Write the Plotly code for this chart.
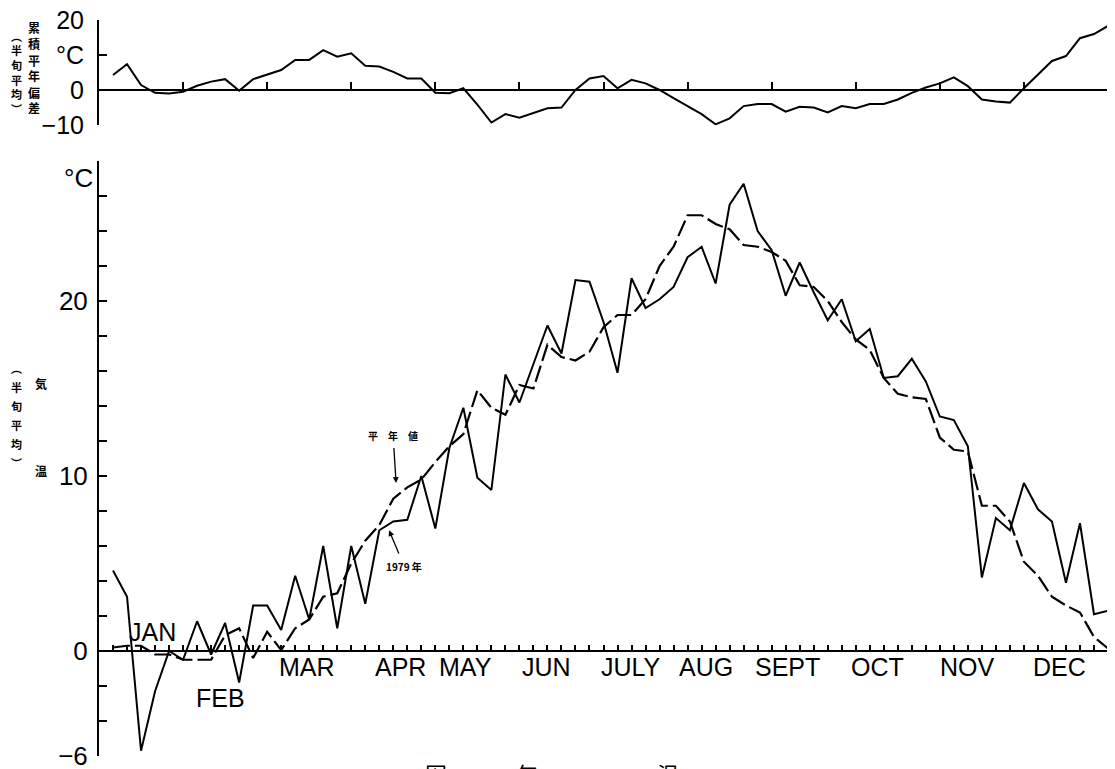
import plotly.graph_objects as go

# ---------------- data (pentad = 5-day period, 72 per year) ----------------
pentad = list(range(1, 73))

temp_1979 = [4.6, 3.1, -5.7, -2.3, 0.0, -0.5, 1.7, -0.2, 1.6, -1.8,
             2.6, 2.6, 1.2, 4.3, 1.8, 6.0, 1.3, 6.0, 2.7, 6.9,
             7.4, 7.5, 10.0, 7.0, 11.6, 13.9, 9.9, 9.2, 15.8, 14.2,
             16.4, 18.6, 17.0, 21.2, 21.1, 18.8, 15.9, 21.3, 19.6, 20.1,
             20.8, 22.5, 23.1, 21.0, 25.5, 26.7, 24.0, 22.9, 20.3, 22.2,
             20.5, 18.9, 20.1, 17.7, 18.4, 15.6, 15.7, 16.7, 15.4, 13.4,
             13.2, 11.7, 4.2, 7.6, 6.9, 9.6, 8.1, 7.4, 3.9, 7.3,
             2.1, 2.3]

temp_normal = [0.2, 0.3, 0.3, -0.2, -0.2, -0.5, -0.5, -0.5, 0.9, 1.3,
               -0.4, 1.1, 0.05, 1.3, 1.8, 3.1, 3.3, 5.0, 6.3, 7.2,
               8.7, 9.35, 9.8, 10.8, 11.7, 12.4, 14.9, 13.9, 13.5, 15.2,
               15.0, 17.5, 16.8, 16.6, 17.1, 18.5, 19.2, 19.2, 20.1, 22.0,
               23.1, 24.9, 24.9, 24.4, 24.1, 23.2, 23.1, 22.8, 22.3, 20.9,
               20.8, 20.0, 18.8, 17.8, 17.2, 15.6, 14.7, 14.5, 14.4, 12.2,
               11.5, 11.4, 8.3, 8.3, 7.4, 5.1, 4.3, 3.1, 2.6, 2.2,
               0.8, 0.15]

cum_dev = [4.3, 7.4, 1.4, -0.8, -1.0, -0.5, 1.2, 2.4, 3.1, -0.2,
           3.1, 4.3, 5.7, 8.6, 8.6, 11.4, 9.5, 10.5, 6.9, 6.7,
           5.2, 3.3, 3.3, -0.8, -0.9, 0.5, -4.2, -9.3, -6.9, -7.9,
           -6.5, -5.2, -5.0, 0.0, 3.3, 4.0, 0.5, 2.9, 1.9, 0.0,
           -2.3, -4.6, -6.9, -9.8, -8.1, -4.6, -4.0, -4.0, -6.2, -4.8,
           -5.0, -6.4, -4.6, -5.2, -4.0, -4.0, -2.7, -0.8, 0.7, 1.9,
           3.6, 1.1, -2.7, -3.3, -3.6, 0.5, 4.3, 8.3, 9.7, 14.8,
           16.0, 18.3]

months = ["JAN", "FEB", "MAR", "APR", "MAY", "JUN",
          "JULY", "AUG", "SEPT", "OCT", "NOV", "DEC"]

main_ticks = list(range(-6, 29, 2))
main_ticklabels = ["\u22126" if v == -6 else (str(v) if v in (0, 10, 20) else "") for v in main_ticks]
top_ticks = [-10, 0, 10, 20]
top_ticklabels = ["\u221210", "0", "\u00b0C", "20"]

# ---------------- layout helpers (page pixel -> paper) ----------------
# the page body has an 8px default margin, so the figure starts at (8, 8)
OFF = 8
W, H = 1115 - OFF, 769 - OFF
def px(p):
    return (p - OFF) / W
def py(p):
    return 1 - (p - OFF) / H

FONT = "Liberation Sans, Arial, sans-serif"
CJK = "Noto Sans CJK JP, sans-serif"

fig = go.Figure()
fig.add_trace(go.Scatter(x=pentad, y=temp_normal, mode="lines", name="平年値",
                         line=dict(color="black", width=2.2, dash="17px,5px"),
                         xaxis="x", yaxis="y", showlegend=False))
fig.add_trace(go.Scatter(x=pentad, y=temp_1979, mode="lines", name="1979年",
                         line=dict(color="black", width=2),
                         xaxis="x", yaxis="y", showlegend=False))
fig.add_trace(go.Scatter(x=pentad, y=cum_dev, mode="lines", name="累積平年偏差",
                         line=dict(color="black", width=2),
                         xaxis="x2", yaxis="y2", showlegend=False))

xdom = [px(99), px(1108)]
axis_common = dict(showgrid=False, zeroline=False, showline=True, linecolor="black",
                   linewidth=2, ticks="inside", tickcolor="black", automargin=False)

fig.update_layout(
    template="none",
    width=W, height=H, autosize=False,
    margin=dict(l=0, r=0, t=0, b=0, pad=0),
    paper_bgcolor="white", plot_bgcolor="white",
    font=dict(family=FONT, color="black"),
    xaxis=dict(domain=xdom, range=[0, 72], anchor="free", position=py(651),
               tickmode="linear", tick0=0, dtick=1, ticklen=5, tickwidth=1.5,
               showticklabels=False, **axis_common),
    xaxis2=dict(domain=xdom, range=[0, 72], anchor="free", position=py(90),
                tickmode="linear", tick0=0, dtick=6, ticklen=7, tickwidth=2,
                showticklabels=False, **axis_common),
    yaxis=dict(domain=[py(756), py(161)], range=[-6, 28], anchor="x",
               tickmode="array", tickvals=main_ticks, ticktext=main_ticklabels,
               ticklen=8, tickwidth=2, ticklabelstandoff=4, ticklabeloverflow="allow",
               tickfont=dict(family=FONT, size=26, color="black"), **axis_common),
    yaxis2=dict(domain=[py(125), py(20)], range=[-10, 20], anchor="x2",
                tickmode="array", tickvals=top_ticks, ticktext=top_ticklabels,
                ticklen=8, tickwidth=2, ticklabelstandoff=8, ticklabeloverflow="allow",
                tickfont=dict(family=FONT, size=25, color="black"), **axis_common),
)

ann = []
# month labels (pixel centres)
month_px = [(152, 632), (220, 698), (307, 667), (400, 667), (465, 667), (546, 667),
            (631, 667), (706, 667), (787, 667), (878, 667), (967, 667), (1059, 667)]
for name, (mx, my) in zip(months, month_px):
    ann.append(dict(text=name, x=px(mx), y=py(my), xref="paper", yref="paper",
                    xanchor="center", yanchor="middle", showarrow=False,
                    font=dict(family=FONT, size=25, color="black")))

# degree label for the main panel
ann.append(dict(text="\u00b0C", x=px(95), y=py(178), xref="paper", yref="paper",
                xanchor="right", yanchor="middle", showarrow=False,
                font=dict(family=FONT, size=26, color="black")))

# series labels with arrows
ann.append(dict(text="<b>平　年　値</b>", x=21.2, y=9.6, xref="x", yref="y",
                ax=-3, ay=-48, showarrow=True, arrowhead=2, arrowsize=0.9,
                arrowwidth=1.3, arrowcolor="black", startstandoff=4,
                font=dict(family=CJK, size=10, color="black")))
ann.append(dict(text="<b>1979 年</b>", x=20.7, y=6.9, xref="x", yref="y",
                ax=15, ay=36, showarrow=True, arrowhead=2, arrowsize=0.9,
                arrowwidth=1.3, arrowcolor="black", startstandoff=4,
                font=dict(family=CJK, size=10, color="black")))

def vertical(text, xc, ytop, step, size):
    for i, ch in enumerate(text):
        ann.append(dict(text="<b>" + ch + "</b>", x=px(xc), y=py(ytop + i * step),
                        xref="paper", yref="paper", xanchor="center", yanchor="middle",
                        showarrow=False, font=dict(family=CJK, size=size, color="black")))

# top panel axis title
vertical("︵半旬平均︶", 16, 36, 14.5, 11)
vertical("累積平年偏差", 34, 28, 16, 12)
# main panel axis title
vertical("︵半旬平均︶", 16, 368, 19, 11)
vertical("気", 41, 383, 0, 12)
vertical("温", 41, 470, 0, 12)

# caption (cut off at the bottom edge of the page, as in the reference)
for ch, cx in (("図", 436), ("年", 527), ("温", 668)):
    ann.append(dict(text=ch, x=px(cx), y=py(764), xref="paper", yref="paper",
                    xanchor="center", yanchor="bottom", yshift=-27, showarrow=False,
                    font=dict(family=CJK, size=22, color="black")))

fig.update_layout(annotations=ann)
fig.write_html("out.html")
